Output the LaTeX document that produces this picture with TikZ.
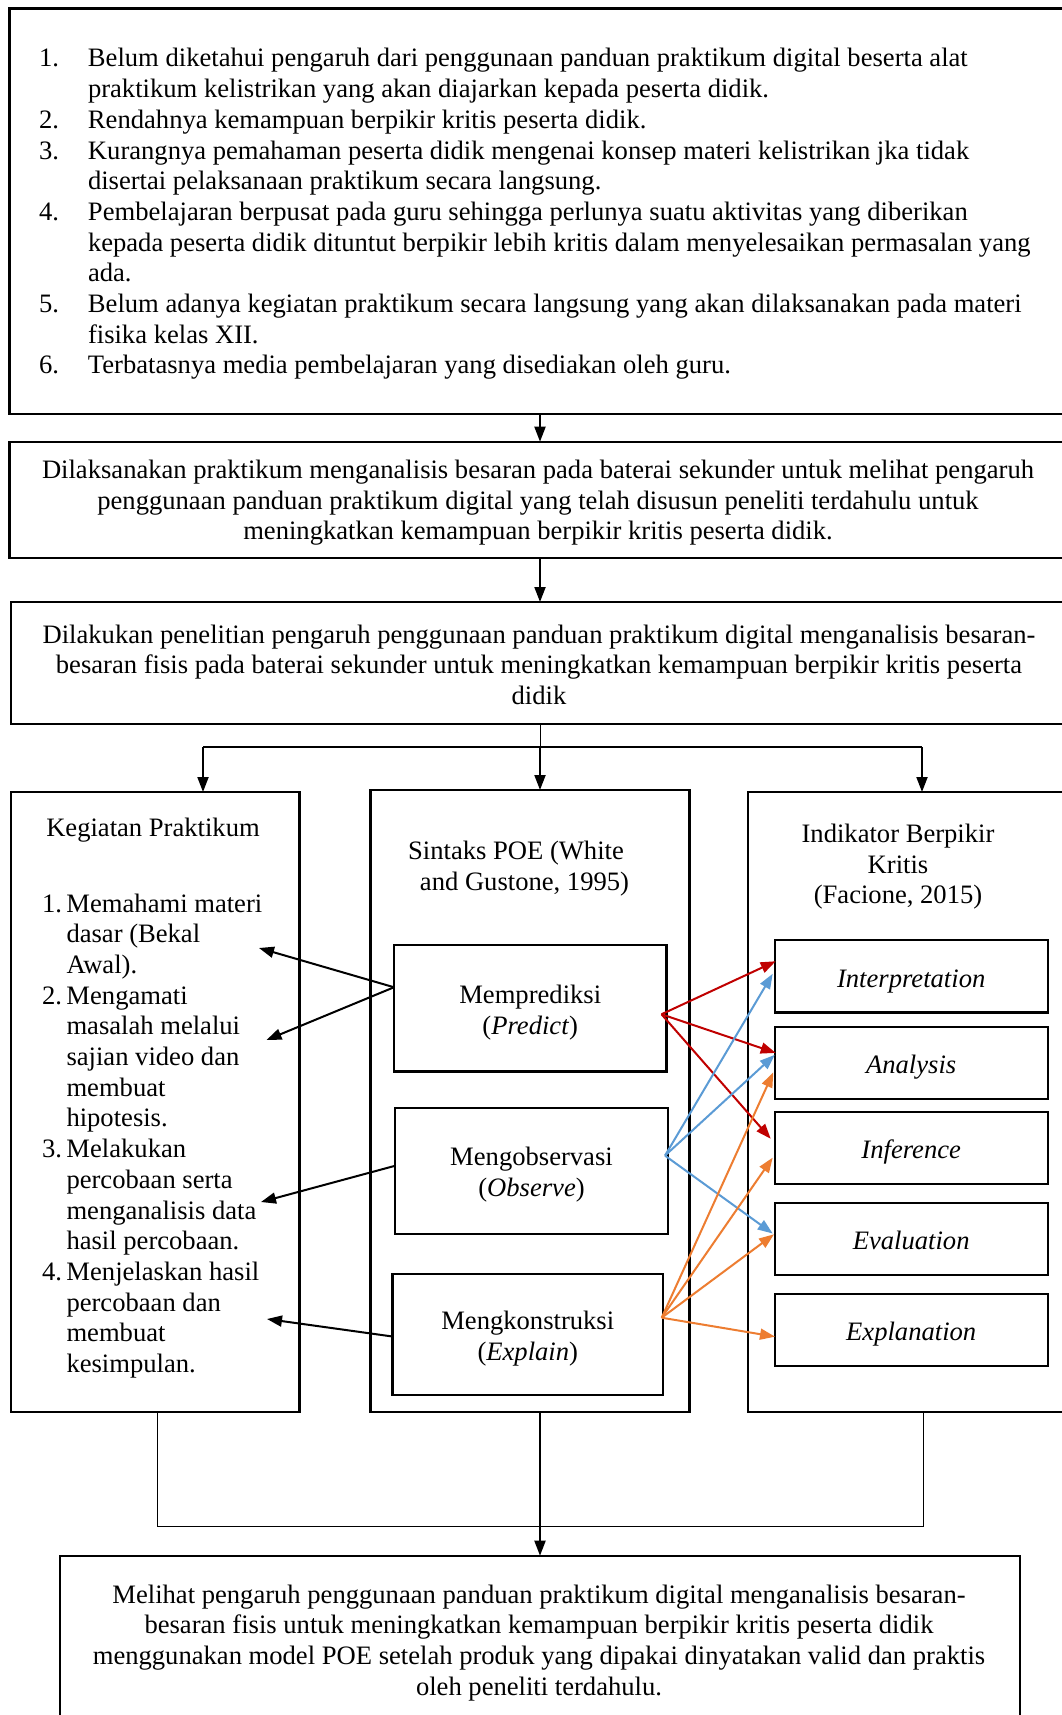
\documentclass[tikz,border=0pt]{standalone}
\usepackage{fontspec}
\setmainfont{Liberation Serif}
\usetikzlibrary{arrows.meta}
\definecolor{cred}{HTML}{C00000}
\definecolor{cblue}{HTML}{5B9BD5}
\definecolor{corange}{HTML}{ED7D31}
\newcommand\dfont{\fontsize{26.6pt}{30.7pt}\selectfont}
\newcommand\numA[1]{\makebox[49pt][l]{#1}}
\newcommand\indA{\hspace*{49pt}}
\newcommand\numB[1]{\makebox[24.5pt][l]{#1}}
\newcommand\indB{\hspace*{24.5pt}}
\newcommand\lowerA{\rule{0pt}{26.5pt}}
\begin{document}
\begin{tikzpicture}[x=1pt,y=-1pt,
  box/.style={draw, line width=2.2pt, inner sep=0pt, outer sep=0pt, anchor=north west},
  inbox/.style={box, font=\dfont, align=center},
  indbox/.style={box, font=\dfont\itshape, text height=26.5pt, text depth=5pt, minimum width=273pt},
  txt/.style={font=\dfont, inner sep=0pt, outer sep=0pt},
  arr/.style={line width=2pt, -{Triangle[length=15pt,width=11pt]}},
  carr/.style={line width=2pt, -{Triangle[length=15pt,width=11pt]}},
  thinln/.style={line width=1pt},
  midln/.style={line width=1.4pt},
]
\useasboundingbox (0,0) rectangle (1062,1715);
\clip (0,0) rectangle (1062,1715);
\fill[white] (0,0) rectangle (1062,1715);

% main boxes
\node[box, minimum width=1080pt, minimum height=405.5pt] (top) at (9.5,8.5) {};
\node[box, minimum width=1080pt, minimum height=116pt] (box2) at (9.5,441.7) {};
\node[box, minimum width=1080pt, minimum height=122pt] (box3) at (11,602) {};
\node[box, minimum width=288.5pt, minimum height=620pt] (keg) at (11,792) {};
\node[box, minimum width=319pt, minimum height=622pt] (poe) at (370.5,790) {};
\node[box, minimum width=400pt, minimum height=620pt] (ind) at (748,792) {};
\node[box, minimum width=960pt, minimum height=300pt] (fin) at (59.6,1555.7) {};

% POE steps
\node[inbox, minimum width=272.5pt, minimum height=126.5pt] (mp) at (394,945) {\lowerA Memprediksi\\(\textit{Predict})};
\node[inbox, minimum width=273pt, minimum height=126.4pt] (mo) at (395,1107.6) {\lowerA Mengobservasi\\(\textit{Observe})};
\node[inbox, minimum width=270.5pt, minimum height=121pt] (mk) at (392.5,1274) {\lowerA Mengkonstruksi\\(\textit{Explain})};

% indicators
\node[indbox, minimum height=72.5pt] (i1) at (774.7,940) {Interpretation};
\node[indbox, minimum height=72.2pt] (i2) at (774.7,1026.8) {Analysis};
\node[indbox, minimum height=72.3pt] (i3) at (774.7,1112) {Inference};
\node[indbox, minimum height=72pt] (i4) at (774.7,1202.8) {Evaluation};
\node[indbox, minimum height=72.3pt] (i5) at (774.7,1293.7) {Explanation};

% texts
\node[txt, anchor=base west] (probs) at (39,67) {\begin{tabular}[t]{@{}l@{}}
\numA{1.}Belum diketahui pengaruh dari penggunaan panduan praktikum digital beserta alat\\
\indA praktikum kelistrikan yang akan diajarkan kepada peserta didik.\\
\numA{2.}Rendahnya kemampuan berpikir kritis peserta didik.\\
\numA{3.}Kurangnya pemahaman peserta didik mengenai konsep materi kelistrikan jka tidak\\
\indA disertai pelaksanaan praktikum secara langsung.\\
\numA{4.}Pembelajaran berpusat pada guru sehingga perlunya suatu aktivitas yang diberikan\\
\indA kepada peserta didik dituntut berpikir lebih kritis dalam menyelesaikan permasalan yang\\
\indA ada.\\
\numA{5.}Belum adanya kegiatan praktikum secara langsung yang akan dilaksanakan pada materi\\
\indA fisika kelas XII.\\
\numA{6.}Terbatasnya media pembelajaran yang disediakan oleh guru.
\end{tabular}};

\node[txt, anchor=base] (b2t) at (538,478.5) {\begin{tabular}[t]{@{}c@{}}
Dilaksanakan praktikum menganalisis besaran pada baterai sekunder untuk melihat pengaruh\\
penggunaan panduan praktikum digital yang telah disusun peneliti terdahulu untuk\\
meningkatkan kemampuan berpikir kritis peserta didik.
\end{tabular}};

\node[txt, anchor=base] (b3t) at (539,643) {\begin{tabular}[t]{@{}c@{}}
Dilakukan penelitian pengaruh penggunaan panduan praktikum digital menganalisis besaran-\\
besaran fisis pada baterai sekunder untuk meningkatkan kemampuan berpikir kritis peserta\\
didik
\end{tabular}};

\node[txt, anchor=base] (kegt) at (153,836) {Kegiatan Praktikum};
\node[txt, anchor=base west] (kegl) at (42,912) {\begin{tabular}[t]{@{}l@{}}
\numB{1.}Memahami materi\\
\indB dasar (Bekal\\
\indB Awal).\\
\numB{2.}Mengamati\\
\indB masalah melalui\\
\indB sajian video dan\\
\indB membuat\\
\indB hipotesis.\\
\numB{3.}Melakukan\\
\indB percobaan serta\\
\indB menganalisis data\\
\indB hasil percobaan.\\
\numB{4.}Menjelaskan hasil\\
\indB percobaan dan\\
\indB membuat\\
\indB kesimpulan.
\end{tabular}};

\node[txt, anchor=base] (poet) at (520,859.5) {\begin{tabular}[t]{@{}c@{}}
Sintaks POE (White\rule{8pt}{0pt}\\
\rule{9pt}{0pt}and Gustone, 1995)
\end{tabular}};

\node[txt, anchor=base] (indt) at (898,842.5) {\begin{tabular}[t]{@{}c@{}}
Indikator Berpikir\\
Kritis\\
(Facione, 2015)
\end{tabular}};

\node[txt, anchor=base] (fint) at (539,1603) {\begin{tabular}[t]{@{}c@{}}
Melihat pengaruh penggunaan panduan praktikum digital menganalisis besaran-\\
besaran fisis untuk meningkatkan kemampuan berpikir kritis peserta didik\\
menggunakan model POE setelah produk yang dipakai dinyatakan valid dan praktis\\
oleh peneliti terdahulu.
\end{tabular}};

% flow connectors
\coordinate (sM) at (540,747);
\coordinate (sL) at (203,747);
\coordinate (sR) at (922,747);
\coordinate (jL) at (157,1526);
\coordinate (jR) at (923,1526);

\draw[arr] (top.south -| sM) -- (box2.north -| sM);
\draw[arr] (box2.south -| sM) -- (box3.north -| sM);
\draw[thinln] (box3.south -| sM) -- (sM);
\draw[midln] (sL) -- (sR);
\draw[arr] (sL) -- (sL |- keg.north);
\draw[arr] (sM) -- (sM |- poe.north);
\draw[arr] (sR) -- (sR |- ind.north);
\draw[thinln] (keg.south -| jL) -- (jL) -- (jR) -- (ind.south -| jR);
\draw[arr] (poe.south -| sM) -- (fin.north -| sM);

% POE to activities
\coordinate (t1) at (259,948);
\coordinate (t2) at (266.5,1040);
\coordinate (t3) at (261,1202);
\coordinate (t4) at (267,1319);
\draw[arr] ([yshift=21pt]mp.west) -- (t1);
\draw[arr] ([yshift=21pt]mp.west) -- (t2);
\draw[arr] ([yshift=5pt]mo.west) -- (t3);
\draw[arr] ([yshift=-2pt]mk.west) -- (t4);

% POE to indicators
\draw[carr, cred] ([xshift=-5pt,yshift=-6pt]mp.east) -- ([xshift=1pt,yshift=15pt]i1.west);
\draw[carr, cred] ([xshift=-5pt,yshift=-6pt]mp.east) -- ([xshift=1pt,yshift=10pt]i2.west);
\draw[carr, cred] ([xshift=-5pt,yshift=-6pt]mp.east) -- ([xshift=-4pt,yshift=9.4pt]i3.west);

\draw[carr, cblue] ([xshift=-3pt,yshift=15.2pt]mo.east) -- ([xshift=-2pt,yshift=2.5pt]i1.west);
\draw[carr, cblue] ([xshift=-3pt,yshift=15.2pt]mo.east) -- ([xshift=0pt,yshift=8pt]i2.west);
\draw[carr, cblue] ([xshift=-3pt,yshift=15.2pt]mo.east) -- ([xshift=-2pt,yshift=5.3pt]i4.west);

\draw[carr, corange] ([xshift=-1.3pt,yshift=16.8pt]mk.east) -- ([xshift=-1.4pt,yshift=-9.4pt]i2.west);
\draw[carr, corange] ([xshift=-1.3pt,yshift=16.8pt]mk.east) -- ([xshift=-2pt,yshift=-9.5pt]i3.west);
\draw[carr, corange] ([xshift=-1.3pt,yshift=16.8pt]mk.east) -- ([xshift=-0.7pt,yshift=4.5pt]i4.west);
\draw[carr, corange] ([xshift=-1.3pt,yshift=16.8pt]mk.east) -- ([xshift=0.3pt,yshift=-6.8pt]i5.west);
\end{tikzpicture}
\end{document}
